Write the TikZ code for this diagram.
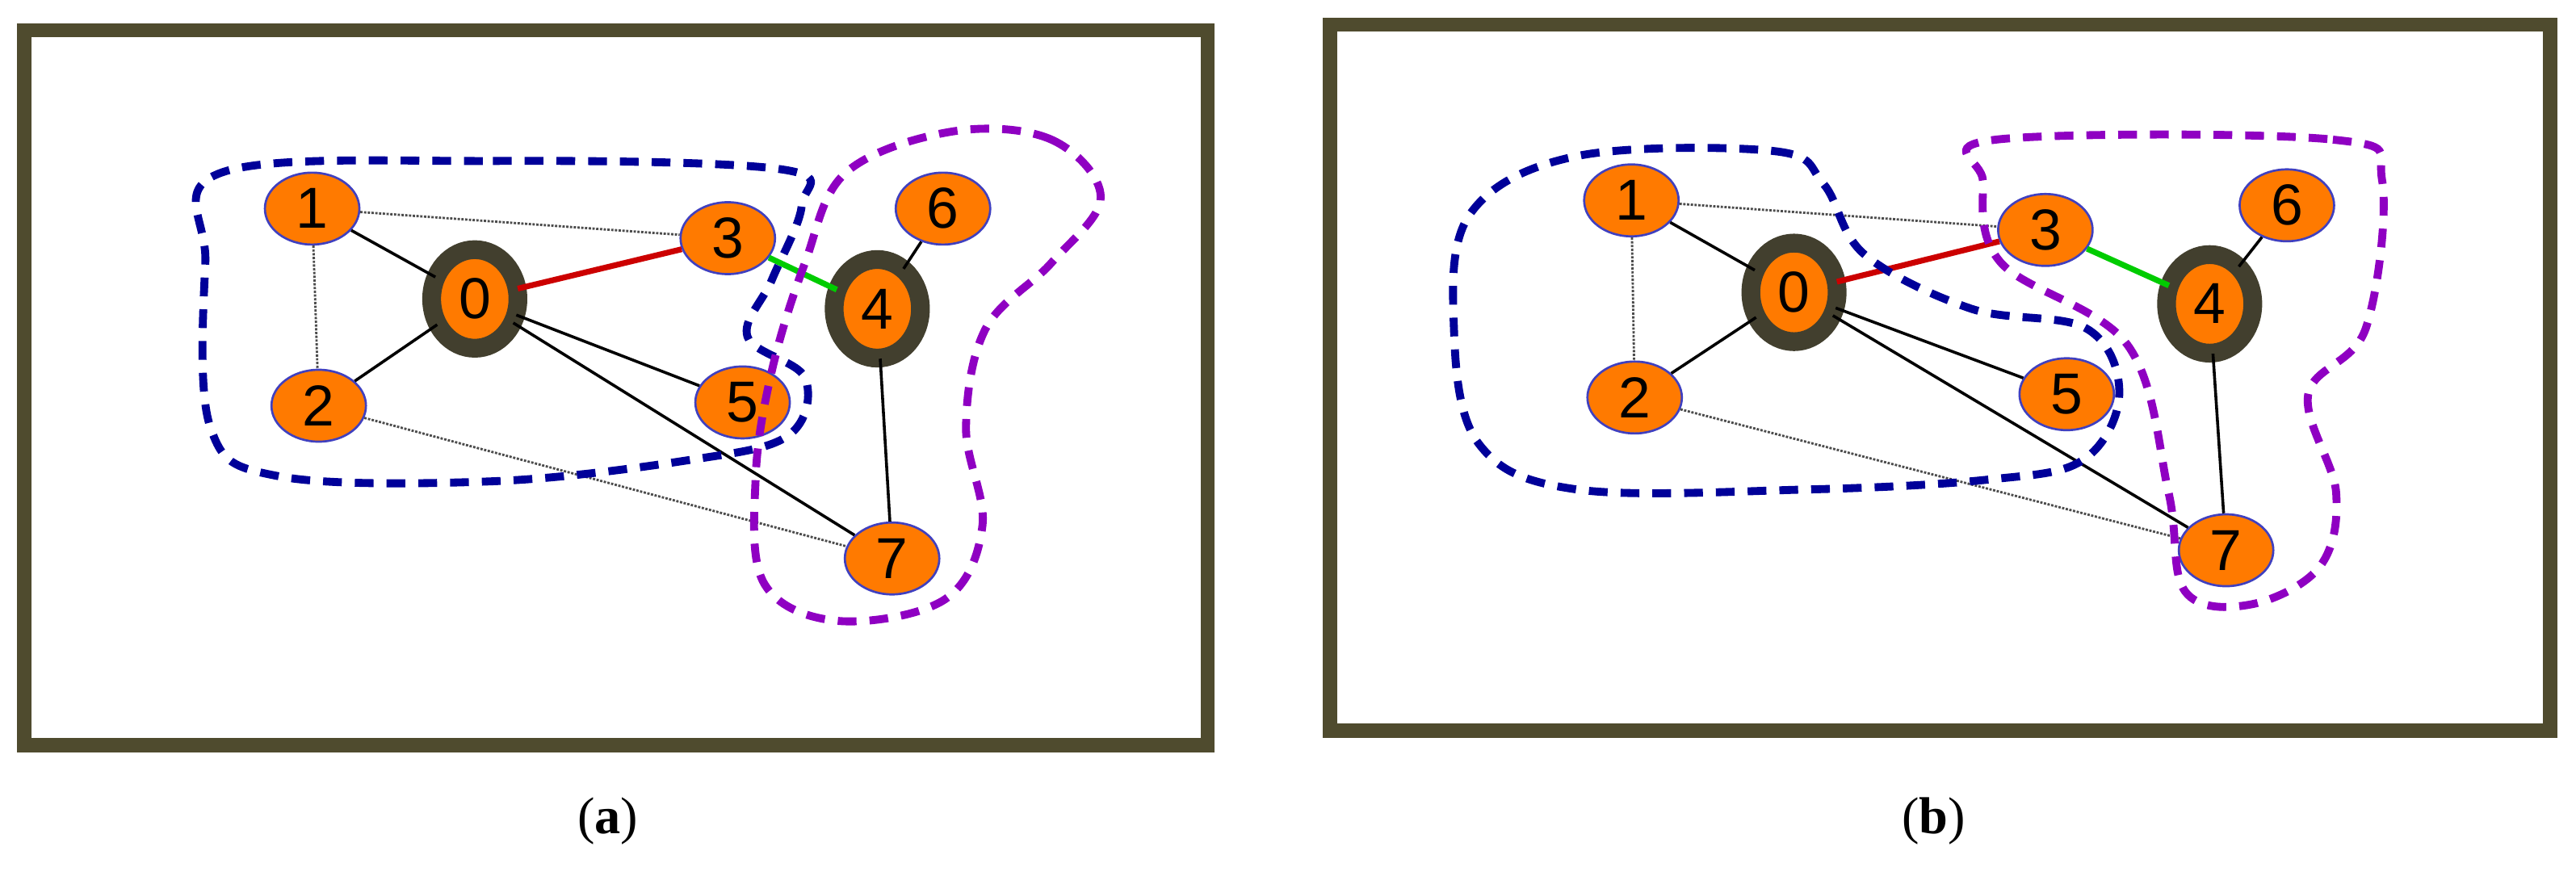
\documentclass[tikz,border=0pt]{standalone}
\usepackage{fontspec}
\setmainfont{Liberation Sans}
\newfontfamily\capfont{Liberation Serif}
\usetikzlibrary{shapes.geometric}
\begin{document}
\begin{tikzpicture}[x=0.04cm,y=-0.04cm,
  v/.style={ellipse,draw=blue!50!gray,line width=1.5pt,fill=orange!90!red!95!yellow,minimum width=2.3cm,minimum height=1.75cm,inner sep=0pt,font=\fontsize{40}{46}\selectfont},
  hub/.style={v,double=black!40!olive!50!black,double distance=11pt,draw=black!40!olive!50!black,minimum width=2.1cm,minimum height=2.4cm,line width=1pt},
  e/.style={line width=2pt},
  d/.style={line width=1.6pt,densely dotted,black!70},
  frame/.style={draw=black!40!olive!70!black,line width=10pt},
  bl/.style={draw=blue!60!black,line width=5.5pt,dash pattern=on 13pt off 9pt},
  pu/.style={draw=violet!60!magenta!80!blue,line width=5.5pt,dash pattern=on 13pt off 9pt},
  captxt/.style={font=\capfont\fontsize{36}{42}\selectfont}]
\useasboundingbox (0,0) rectangle (1568,533);
\node[frame,minimum width=28.8cm,minimum height=17.4cm] (fa) at (375,236) {};
\node[frame,minimum width=29.7cm,minimum height=17.2cm] (fb) at (1181,230) {};
% panel a
\node[v] (a1) at (190,127) {1};
\node[v] (a3) at (443,145) {3};
\node[v] (a6) at (574,127) {6};
\node[hub] (a0) at (289,182) {0};
\node[hub] (a4) at (534,188) {4};
\node[v] (a2) at (194,247) {2};
\node[v] (a5) at (452,245) {5};
\node[v] (a7) at (543,340) {7};
\draw[e] (a0)--(a1); \draw[e] (a0)--(a2); \draw[e] (a0)--(a5); \draw[e] (a0)--(a7);
\draw[e] (a4)--(a6); \draw[e] (a4)--(a7);
\draw[line width=4pt,red!80!black] (a0)--(a3);
\draw[line width=4pt,green!80!black] (a3)--(a4);
\draw[d] (a1)--(a3); \draw[d] (a1)--(a2); \draw[d] (a2)--(a7);
\draw[bl] plot[smooth cycle,tension=0.6] coordinates {(135,105) (300,98) (475,103) (488,125) (470,170) (455,205) (490,230) (480,265) (420,280) (300,293) (170,290) (128,260) (125,160)};
\draw[pu] plot[smooth cycle,tension=0.6] coordinates {(580,80) (640,85) (670,120) (640,160) (600,200) (588,260) (598,320) (575,365) (510,378) (465,355) (460,290) (470,225) (490,160) (515,105)};
% panel b
\node[v] (b1) at (993,122) {1};
\node[v] (b3) at (1245,140) {3};
\node[v] (b6) at (1392,125) {6};
\node[hub] (b0) at (1092,178) {0};
\node[hub] (b4) at (1345,185) {4};
\node[v] (b2) at (995,242) {2};
\node[v] (b5) at (1258,240) {5};
\node[v] (b7) at (1355,335) {7};
\draw[e] (b0)--(b1); \draw[e] (b0)--(b2); \draw[e] (b0)--(b5); \draw[e] (b0)--(b7);
\draw[e] (b4)--(b6); \draw[e] (b4)--(b7);
\draw[line width=4pt,red!80!black] (b0)--(b3);
\draw[line width=4pt,green!80!black] (b3)--(b4);
\draw[d] (b1)--(b3); \draw[d] (b1)--(b2); \draw[d] (b2)--(b7);
\draw[bl] plot[smooth cycle,tension=0.6] coordinates {(960,95) (1080,92) (1110,112) (1135,155) (1200,188) (1270,200) (1290,240) (1268,280) (1210,292) (1100,298) (960,298) (900,270) (885,200) (895,130)};
\draw[pu] plot[smooth cycle,tension=0.6] coordinates {(1215,85) (1420,85) (1450,110) (1440,200) (1405,240) (1422,300) (1412,345) (1370,368) (1330,360) (1320,300) (1295,210) (1218,160) (1207,110)};
\node[captxt] (ca) at (370,500) {(\textbf{a})};
\node[captxt] (cb) at (1177,500) {(\textbf{b})};
\end{tikzpicture}
\end{document}
